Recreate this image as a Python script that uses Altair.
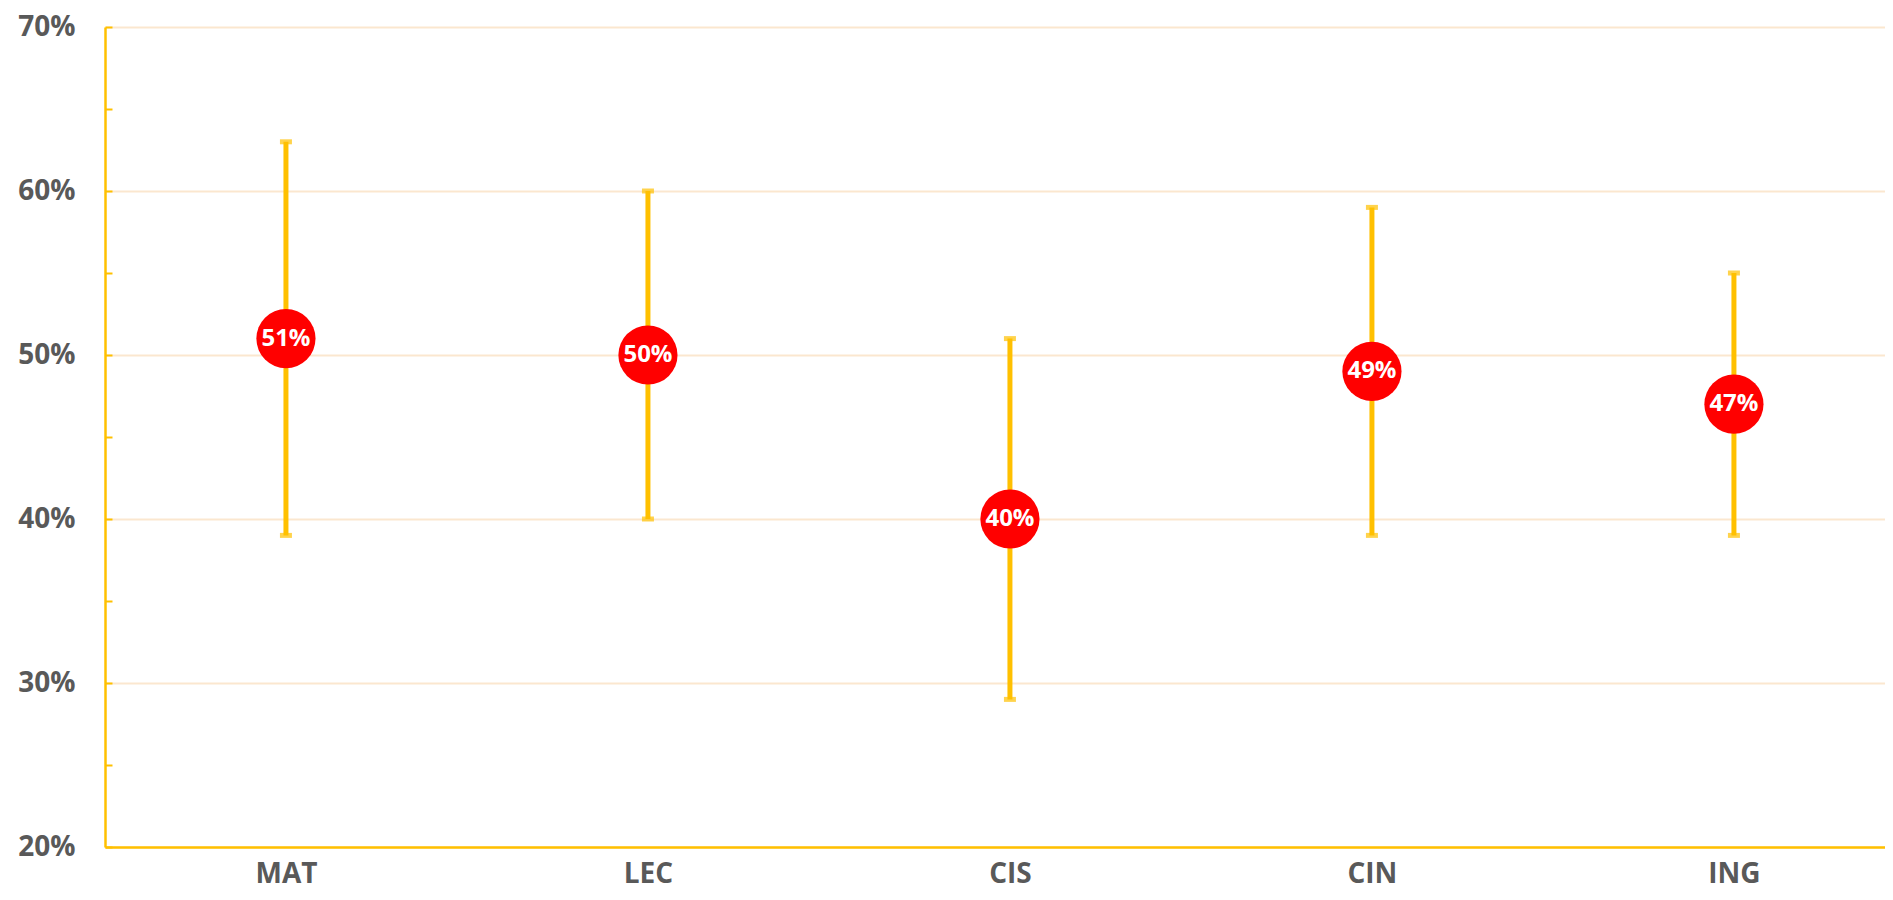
import altair as alt
import pandas as pd

categories = ["MAT", "LEC", "CIS", "CIN", "ING"]
means = [0.51, 0.50, 0.40, 0.49, 0.47]
lows = [0.39, 0.40, 0.29, 0.39, 0.39]
highs = [0.63, 0.60, 0.51, 0.59, 0.55]
labels = ["51%", "50%", "40%", "49%", "47%"]
major_ticks = [0.2, 0.3, 0.4, 0.5, 0.6, 0.7]
minor_ticks = [0.2, 0.25, 0.3, 0.35, 0.4, 0.45, 0.5, 0.55, 0.6, 0.65, 0.7]

df = pd.DataFrame({"cat": categories, "mean": means, "low": lows, "high": highs, "label": labels})

GOLD = "#FFC000"
FONT = "Open Sans"

xscale = alt.Scale(type="point", domain=categories, padding=0.4586, align=0.545)
yscale = alt.Scale(domain=[0.2, 0.7], nice=False, zero=False)

x_enc = alt.X("cat:N", scale=xscale, sort=categories,
              axis=alt.Axis(title=None, labelAngle=0, labelFont=FONT, labelFontSize=28,
                            labelFontWeight="bold", labelColor="#595959", labelPadding=13,
                            ticks=False, domain=True, domainColor=GOLD, domainWidth=2.5, grid=False))
y_main = alt.Y("low:Q", scale=yscale,
               axis=alt.Axis(title=None, values=major_ticks, format=".0%", labelFont=FONT,
                             labelFontSize=28, labelFontWeight="bold", labelColor="#595959",
                             labelPadding=30, ticks=False, domain=True, domainColor=GOLD,
                             domainWidth=2.5, grid=True, gridColor="#FBE7CF", gridWidth=2))

rules = alt.Chart(df).mark_rule(color=GOLD, strokeWidth=5).encode(
    x=x_enc, y=y_main, y2="high:Q")

tick_axis = alt.Axis(title=None, values=minor_ticks, labels=False, domain=False, grid=False,
                     ticks=True, tickColor=GOLD, tickSize=7, tickWidth=2, offset=-7, orient="left")

caps_low = alt.Chart(df).mark_tick(color=GOLD, size=12, thickness=5).encode(
    x=alt.X("cat:N", scale=xscale, sort=categories),
    y=alt.Y("low:Q", scale=yscale, axis=tick_axis))
caps_high = alt.Chart(df).mark_tick(color=GOLD, size=12, thickness=5).encode(
    x=alt.X("cat:N", scale=xscale, sort=categories),
    y=alt.Y("high:Q", scale=yscale))

dots = alt.Chart(df).mark_circle(color="#FF0000", opacity=1, size=3500).encode(
    x=alt.X("cat:N", scale=xscale, sort=categories),
    y=alt.Y("mean:Q", scale=yscale))

text = alt.Chart(df).mark_text(color="white", font=FONT, fontSize=24, fontWeight="bold",
                               baseline="middle", align="center").encode(
    x=alt.X("cat:N", scale=xscale, sort=categories),
    y=alt.Y("mean:Q", scale=yscale),
    text="label:N")

chart = alt.layer(rules, caps_low, caps_high, dots, text).resolve_axis(y="independent").properties(
    width=1780, height=820,
    autosize=alt.AutoSizeParams(type="none"),
    padding={"left": 97, "top": 19, "right": 0, "bottom": 45},
).configure_view(stroke=None)

chart.save("out.html", embed_options={"renderer": "svg", "actions": False})
